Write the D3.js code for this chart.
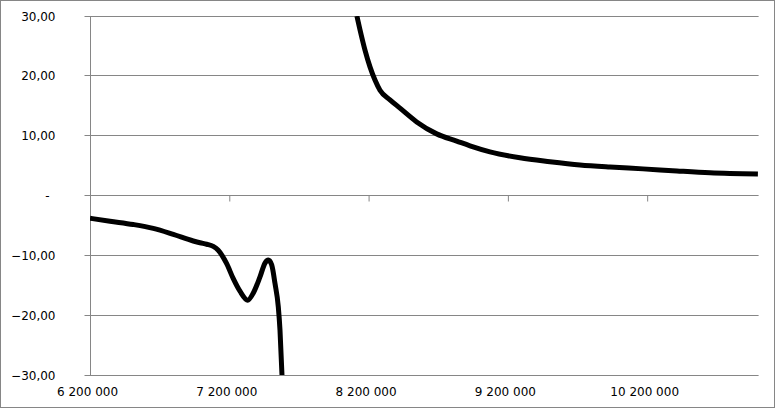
<!DOCTYPE html>
<html>
<head>
<meta charset="utf-8">
<script src="https://cdn.jsdelivr.net/npm/d3@7"></script>
<style>
  html, body { margin: 0; padding: 0; background: #fff; }
  svg { display: block; }
  text { font-family: "DejaVu Sans", Verdana, sans-serif; font-size: 12px; fill: #000; }
</style>
</head>
<body>
<svg id="chart" width="775" height="408"></svg>
<script>
// ---- data ----
const xTicks = [6200000, 7200000, 8200000, 9200000, 10200000];
const yTicks = [-30, -20, -10, 0, 10, 20, 30];

// left branch (before the gap)
const leftX = [6200000, 6343600, 6510800, 6654400, 6798000, 6941600, 6989700, 7037800, 7085100, 7118900,
               7147600, 7181300, 7228700, 7276800, 7332100, 7372300, 7420400, 7456300, 7480000, 7504400,
               7528100, 7551800, 7564000, 7578300];
const leftY  = [-3.8, -4.3, -4.85, -5.5, -6.5, -7.6, -7.9, -8.15, -8.5, -9.1,
                -10.0, -11.4, -13.9, -16.0, -17.5, -16.3, -13.6, -11.3, -10.8, -11.6,
                -14.7, -18.6, -22.5, -30.0];

// right branch (after the gap)
const rightX = [8116000, 8138300, 8174200, 8210100, 8245900, 8281800, 8353600, 8425400, 8545300,
                8688900, 8832500, 8927900, 9071400, 9286800, 9502200, 9717500, 9932900,
                10169900, 10413900, 10650800, 10995000];
const rightY = [30.0, 27.7, 24.3, 21.5, 19.3, 17.6, 16.0, 14.6, 12.3,
                10.3, 9.1, 8.3, 7.3, 6.3, 5.65, 5.1, 4.75,
                4.45, 4.1, 3.8, 3.6];

// ---- chart ----
const svg = d3.select("#chart");
const W = 775, H = 408;
const pL = 90, pR = 758.6, pT = 16, pB = 375;

const loc = d3.formatLocale({decimal: ",", thousands: " ", grouping: [3], currency: ["", ""]});
const fmtY = loc.format(",.2f");
const fmtX = loc.format(",d");

const x = d3.scaleLinear().domain([6200000, 11000000]).range([pL, pR]);
const y = d3.scaleLinear().domain([-30, 30]).range([pB, pT]);

// outer border
svg.append("rect")
  .attr("x", 0.5).attr("y", 0.5).attr("width", W - 1).attr("height", H - 1)
  .attr("fill", "#fff").attr("stroke", "#868686");

const grid = "#868686";
const snap = v => Math.floor(v) + 0.5;

// horizontal gridlines
svg.append("g").selectAll("line").data(yTicks).join("line")
  .attr("x1", pL).attr("x2", pR)
  .attr("y1", d => snap(y(d))).attr("y2", d => snap(y(d)))
  .attr("stroke", grid).attr("stroke-width", 1);

// y axis
const yAxis = d3.axisLeft(y).tickValues(yTicks).tickSize(6).tickSizeOuter(0)
  .tickFormat(d => d === 0 ? "-" : fmtY(d));
const gy = svg.append("g").attr("transform", `translate(${snap(pL)},0)`).call(yAxis);
gy.select(".domain").attr("stroke", grid).attr("d", `M0,${pT}V${pB}`);
gy.selectAll(".tick line").attr("stroke", grid);
gy.selectAll(".tick").attr("transform", d => `translate(0,${snap(y(d))})`);
gy.selectAll(".tick text")
  .attr("x", d => d === 0 ? -41 : -35)
  .attr("dy", "0.35em")
  .style("font-family", "'DejaVu Sans', Verdana, sans-serif")
  .style("font-size", "12px").attr("fill", "#000");

// x axis on the zero line
const xAxis = d3.axisBottom(x).tickValues(xTicks).tickSize(6).tickSizeOuter(0).tickFormat(d => fmtX(d));
const gx = svg.append("g").attr("transform", `translate(0,${snap(y(0))})`).call(xAxis);
gx.select(".domain").remove();
gx.selectAll(".tick line").attr("stroke", grid);
gx.selectAll(".tick").filter(d => d === 6200000).select("line").remove();
gx.selectAll(".tick text")
  .attr("y", 0).attr("dy", 0)
  .attr("transform", `translate(-3,${395.5 - snap(y(0))})`)
  .style("font-family", "'DejaVu Sans', Verdana, sans-serif")
  .style("font-size", "12px").attr("fill", "#000");

// clip & data line
svg.append("clipPath").attr("id", "plot")
  .append("rect").attr("x", pL).attr("y", pT).attr("width", pR - pL).attr("height", pB - pT);

const line = d3.line().x(d => x(d[0])).y(d => y(d[1])).curve(d3.curveMonotoneX);
const leftData = leftX.map((v, i) => [v, leftY[i]]);
const rightData = rightX.map((v, i) => [v, rightY[i]]);

svg.append("g").attr("clip-path", "url(#plot)")
  .selectAll("path").data([leftData, rightData]).join("path")
  .attr("d", line)
  .attr("fill", "none").attr("stroke", "#000").attr("stroke-width", 5)
  .attr("stroke-linejoin", "round").attr("stroke-linecap", "butt");
</script>
</body>
</html>
